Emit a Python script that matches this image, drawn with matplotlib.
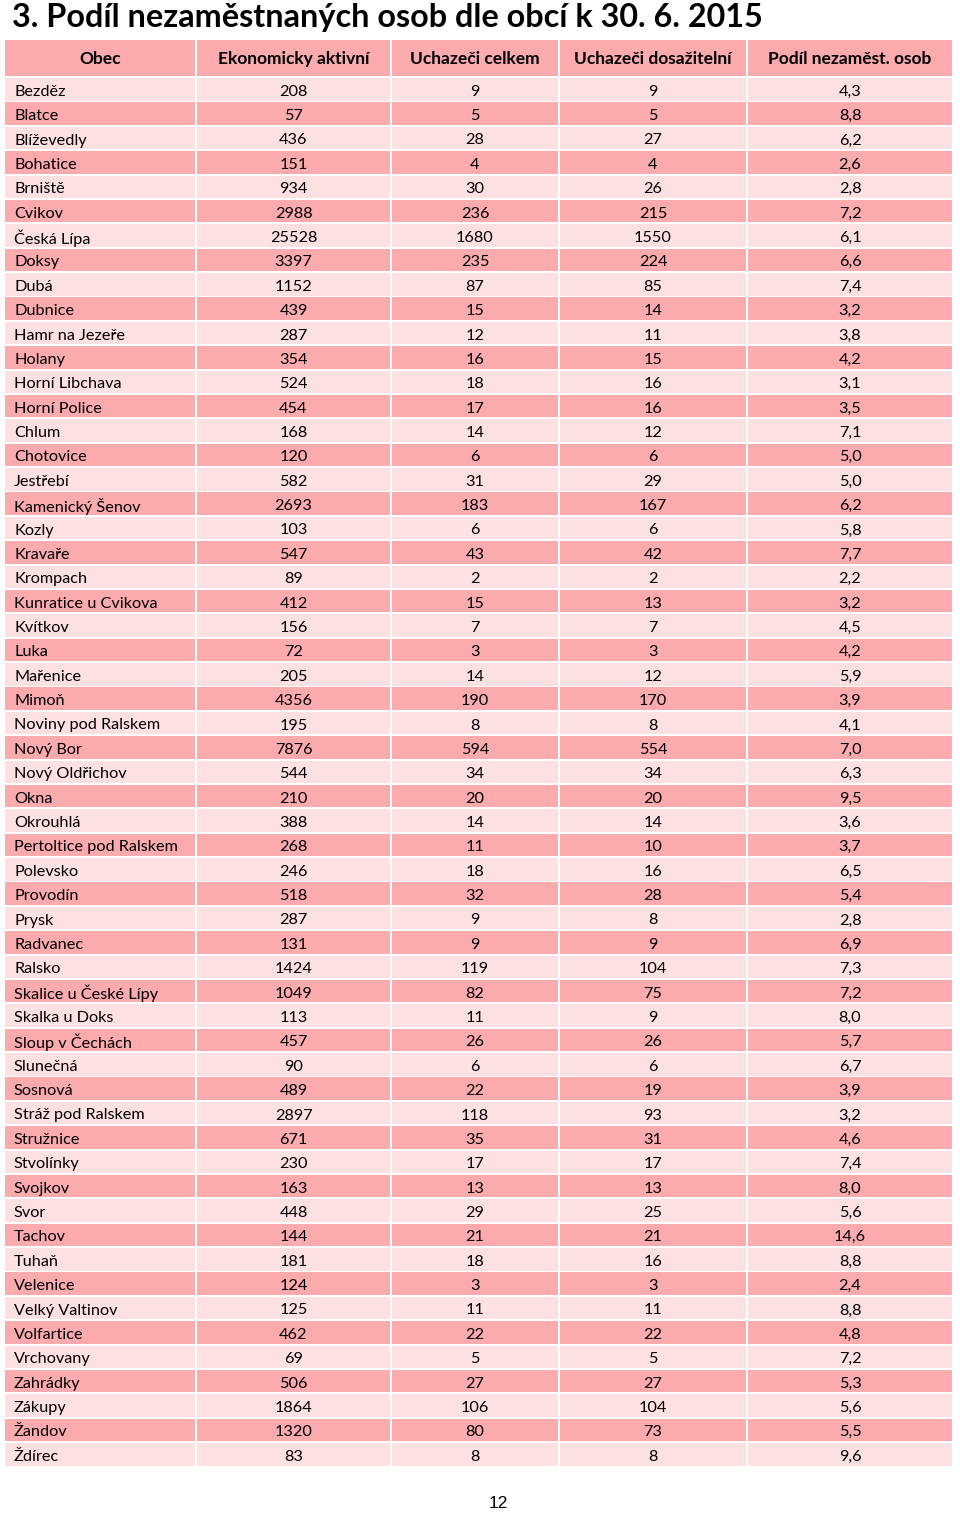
import numpy as np
import matplotlib.pyplot as plt
from matplotlib.patches import Rectangle

plt.rcParams['font.family'] = ['Lato', 'DejaVu Sans']

title = '3. Podíl nezaměstnaných osob dle obcí k 30. 6. 2015'
headers = ['Obec', 'Ekonomicky aktivní', 'Uchazeči celkem', 'Uchazeči dosažitelní', 'Podíl nezaměst. osob']

obce = ['Bezděz', 'Blatce', 'Blíževedly', 'Bohatice', 'Brniště', 'Cvikov', 'Česká Lípa', 'Doksy',
        'Dubá', 'Dubnice', 'Hamr na Jezeře', 'Holany', 'Horní Libchava', 'Horní Police', 'Chlum',
        'Chotovice', 'Jestřebí', 'Kamenický Šenov', 'Kozly', 'Kravaře', 'Krompach',
        'Kunratice u Cvikova', 'Kvítkov', 'Luka', 'Mařenice', 'Mimoň', 'Noviny pod Ralskem',
        'Nový Bor', 'Nový Oldřichov', 'Okna', 'Okrouhlá', 'Pertoltice pod Ralskem', 'Polevsko',
        'Provodín', 'Prysk', 'Radvanec', 'Ralsko', 'Skalice u České Lípy', 'Skalka u Doks',
        'Sloup v Čechách', 'Slunečná', 'Sosnová', 'Stráž pod Ralskem', 'Stružnice', 'Stvolínky',
        'Svojkov', 'Svor', 'Tachov', 'Tuhaň', 'Velenice', 'Velký Valtinov', 'Volfartice',
        'Vrchovany', 'Zahrádky', 'Zákupy', 'Žandov', 'Ždírec']
ek_aktivni = [208, 57, 436, 151, 934, 2988, 25528, 3397, 1152, 439, 287, 354, 524, 454, 168,
              120, 582, 2693, 103, 547, 89, 412, 156, 72, 205, 4356, 195, 7876, 544, 210, 388,
              268, 246, 518, 287, 131, 1424, 1049, 113, 457, 90, 489, 2897, 671, 230, 163, 448,
              144, 181, 124, 125, 462, 69, 506, 1864, 1320, 83]
uch_celkem = [9, 5, 28, 4, 30, 236, 1680, 235, 87, 15, 12, 16, 18, 17, 14, 6, 31, 183, 6, 43, 2,
              15, 7, 3, 14, 190, 8, 594, 34, 20, 14, 11, 18, 32, 9, 9, 119, 82, 11, 26, 6, 22,
              118, 35, 17, 13, 29, 21, 18, 3, 11, 22, 5, 27, 106, 80, 8]
uch_dosaz = [9, 5, 27, 4, 26, 215, 1550, 224, 85, 14, 11, 15, 16, 16, 12, 6, 29, 167, 6, 42, 2,
             13, 7, 3, 12, 170, 8, 554, 34, 20, 14, 10, 16, 28, 8, 9, 104, 75, 9, 26, 6, 19, 93,
             31, 17, 13, 25, 21, 16, 3, 11, 22, 5, 27, 104, 73, 8]
podil = [4.3, 8.8, 6.2, 2.6, 2.8, 7.2, 6.1, 6.6, 7.4, 3.2, 3.8, 4.2, 3.1, 3.5, 7.1, 5.0, 5.0,
         6.2, 5.8, 7.7, 2.2, 3.2, 4.5, 4.2, 5.9, 3.9, 4.1, 7.0, 6.3, 9.5, 3.6, 3.7, 6.5, 5.4,
         2.8, 6.9, 7.3, 7.2, 8.0, 5.7, 6.7, 3.9, 3.2, 4.6, 7.4, 8.0, 5.6, 14.6, 8.8, 2.4, 8.8,
         4.8, 7.2, 5.3, 5.6, 5.5, 9.6]
page_no = '12'

# layout in pixels
W, H = 960, 1514
col_left = [5, 197, 392, 560, 748]
col_right = [195, 390, 558, 746, 952]
head_top, head_h = 40, 36
row_top, row_step, row_h = 78, 24.375, 22.5
dark = '#fbaaae'
light = '#fde0e2'

fig = plt.figure(figsize=(W / 100, H / 100), dpi=100)
ax = fig.add_axes([0, 0, 1, 1])
ax.set_xlim(0, W)
ax.set_ylim(H, 0)
ax.axis('off')

ax.text(12, 17.5, title, fontsize=23.3, fontweight='bold', va='center', ha='left')

for j, h in enumerate(headers):
    ax.add_patch(Rectangle((col_left[j], head_top), col_right[j] - col_left[j], head_h,
                           facecolor=dark, edgecolor='none'))
    ax.text((col_left[j] + col_right[j]) / 2, head_top + head_h / 2 + 1, h,
            fontsize=12.5, fontweight='bold', ha='center', va='center')

rows = zip(obce, ek_aktivni, uch_celkem, uch_dosaz, podil)
for i, (o, e, c, d, p) in enumerate(rows):
    y = row_top + i * row_step
    fc = light if i % 2 == 0 else dark
    vals = [o, str(e), str(c), str(d), ('%.1f' % p).replace('.', ',')]
    for j, v in enumerate(vals):
        ax.add_patch(Rectangle((col_left[j], y), col_right[j] - col_left[j], row_h,
                               facecolor=fc, edgecolor='none'))
        if j == 0:
            ax.text(col_left[j] + 9, y + row_h / 2 + 2.5, v, fontsize=11.7, ha='left', va='center')
        else:
            ax.text((col_left[j] + col_right[j]) / 2, y + row_h / 2 + 2.5, v,
                    fontsize=11.7, ha='center', va='center')

ax.text(498, 1504, page_no, fontsize=12.5, ha='center', va='center', family='Liberation Sans')

fig.savefig('out.png', dpi=100)
